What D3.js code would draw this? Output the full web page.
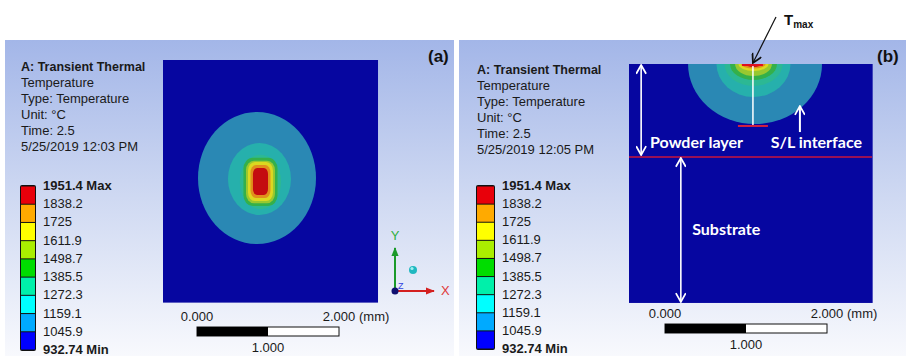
<!DOCTYPE html>
<html>
<head>
<meta charset="utf-8">
<script src="https://cdn.jsdelivr.net/npm/d3@7"></script>
<style>
  body { margin: 0; background: #fff; }
  svg { display: block; }
</style>
</head>
<body>
<div id="chart"></div>
<script>
// contour levels (°C), top to bottom of the legend
const legendLevels = [1951.4, 1838.2, 1725, 1611.9, 1498.7, 1385.5, 1272.3, 1159.1, 1045.9, 932.74];
const legendColors = ["#e8000a", "#ffaa00", "#ffff00", "#aaee00", "#00dd00", "#00f0aa", "#00ffff", "#00aaff", "#0000ff"];
// same bands as they appear on the lit model
const shadeColors = ["#c40c10", "#e0901c", "#dcd820", "#98c830", "#34b04a", "#2cb894", "#26b0ac", "#2a88b4", "#0606a0"];

const infoA = ["A: Transient Thermal", "Temperature", "Type: Temperature", "Unit: °C", "Time: 2.5", "5/25/2019 12:03 PM"];
const infoB = ["A: Transient Thermal", "Temperature", "Type: Temperature", "Unit: °C", "Time: 2.5", "5/25/2019 12:05 PM"];

const scaleTicks = [0, 1, 2]; // mm

// (a) top view, mm from top-left corner of the part; band = index in shadeColors
// box = the band looks like a rounded square rather than an ellipse
const bandsA = [
  { band: 7, cx: 1.324, cy: 1.662, rx: 0.831, ry: 0.930, box: false },
  { band: 6, cx: 1.359, cy: 1.676, rx: 0.444, ry: 0.507, box: false },
  { band: 5, cx: 1.373, cy: 1.718, rx: 0.290, ry: 0.385, box: false },
  { band: 4, cx: 1.373, cy: 1.718, rx: 0.240, ry: 0.340, box: true },
  { band: 3, cx: 1.373, cy: 1.718, rx: 0.204, ry: 0.300, box: true },
  { band: 2, cx: 1.373, cy: 1.711, rx: 0.176, ry: 0.275, box: true },
  { band: 1, cx: 1.373, cy: 1.711, rx: 0.141, ry: 0.232, box: true },
  { band: 0, cx: 1.373, cy: 1.711, rx: 0.106, ry: 0.190, box: true }
];

// (b) cross section, mm from top surface; pools are half ellipses on the surface
const bandsB = [
  { band: 7, cx: 1.556, rx: 0.827, ry: 0.741, box: false },
  { band: 6, cx: 1.537, rx: 0.457, ry: 0.407, box: false },
  { band: 5, cx: 1.537, rx: 0.358, ry: 0.272, box: false },
  { band: 4, cx: 1.537, rx: 0.290, ry: 0.198, box: false },
  { band: 3, cx: 1.537, rx: 0.228, ry: 0.148, box: false },
  { band: 2, cx: 1.537, rx: 0.185, ry: 0.086, box: false },
  { band: 1, cx: 1.537, rx: 0.148, ry: 0.056, box: false },
  { band: 0, cx: 1.537, rx: 0.105, ry: 0.037, box: false }
];
const poolCenterB = 1.53;    // mm
const poolDepthB = 0.765;    // mm
const interfaceDepthB = 1.148; // mm, powder layer / substrate

const W = 906, H = 356;
const textFont = "'Liberation Sans', Arial, sans-serif";
const labelFont = "Lato, 'Open Sans', sans-serif";

const svg = d3.select("#chart").append("svg")
  .attr("width", W).attr("height", H)
  .attr("viewBox", [0, 0, W, H]);

const defs = svg.append("defs");
const grad = defs.append("linearGradient")
  .attr("id", "bg").attr("x1", 0).attr("y1", 0).attr("x2", 0).attr("y2", 1);
grad.append("stop").attr("offset", "0%").attr("stop-color", "#a3b6e8");
grad.append("stop").attr("offset", "50%").attr("stop-color", "#cfd9f2");
grad.append("stop").attr("offset", "100%").attr("stop-color", "#f8f9fd");

function chevron(id, color, size) {
  defs.append("marker")
    .attr("id", id)
    .attr("viewBox", "0 -5 10 10")
    .attr("refX", 9).attr("refY", 0)
    .attr("markerWidth", size).attr("markerHeight", size)
    .attr("markerUnits", "userSpaceOnUse")
    .attr("orient", "auto-start-reverse")
    .append("path")
    .attr("d", "M1,-4.5L9,0L1,4.5")
    .attr("fill", "none")
    .attr("stroke", color)
    .attr("stroke-width", 1.6);
}
chevron("wArrow", "#fff", 11);
chevron("kArrow", "#111", 11);
defs.append("marker")
  .attr("id", "gArrow").attr("viewBox", "0 -5 10 10")
  .attr("refX", 9).attr("refY", 0)
  .attr("markerWidth", 9).attr("markerHeight", 9)
  .attr("markerUnits", "userSpaceOnUse").attr("orient", "auto")
  .append("path").attr("d", "M0,-4L10,0L0,4Z").attr("fill", "#1a9a2a");
defs.append("marker")
  .attr("id", "rArrow").attr("viewBox", "0 -5 10 10")
  .attr("refX", 9).attr("refY", 0)
  .attr("markerWidth", 9).attr("markerHeight", 9)
  .attr("markerUnits", "userSpaceOnUse").attr("orient", "auto")
  .append("path").attr("d", "M0,-4L10,0L0,4Z").attr("fill", "#d42020");

function drawPanel(p) {
  const g = svg.append("g");

  g.append("rect")
    .attr("x", p.x).attr("y", 40)
    .attr("width", p.w).attr("height", H - 40)
    .attr("fill", "url(#bg)");

  // header text
  g.append("g")
    .selectAll("text")
    .data(p.info)
    .join("text")
    .attr("x", p.textX)
    .attr("y", (d, i) => p.textY + i * 16)
    .style("font-family", textFont)
    .style("font-size", (d, i) => i === 0 ? "12.5px" : "13px")
    .style("font-weight", (d, i) => i === 0 ? "bold" : "normal")
    .attr("fill", "#1a1a1a")
    .text(d => d);

  // legend
  const ly = d3.scaleLinear()
    .domain([legendLevels[legendLevels.length - 1], legendLevels[0]])
    .range([p.legBottom, p.legTop]);

  const bands = d3.pairs(legendLevels).map((pr, i) => ({ hi: pr[0], lo: pr[1], color: legendColors[i] }));
  g.append("rect")
    .attr("x", p.textX - 1).attr("y", ly(legendLevels[0]) - 1)
    .attr("width", p.legW + 2).attr("height", ly(legendLevels[legendLevels.length - 1]) - ly(legendLevels[0]) + 2)
    .attr("rx", 2)
    .attr("fill", "#111");
  g.append("g")
    .selectAll("rect")
    .data(bands)
    .join("rect")
    .attr("x", p.textX)
    .attr("y", d => ly(d.hi) + 0.5)
    .attr("width", p.legW)
    .attr("height", d => ly(d.lo) - ly(d.hi) - 1)
    .attr("fill", d => d.color);

  g.append("g")
    .selectAll("text")
    .data(legendLevels)
    .join("text")
    .attr("x", p.textX + p.legW + 8)
    .attr("y", d => ly(d) + 4)
    .style("font-family", textFont)
    .style("font-size", "13px")
    .style("font-weight", (d, i) => (i === 0 || i === legendLevels.length - 1) ? "bold" : "normal")
    .attr("fill", "#1a1a1a")
    .text((d, i) => i === 0 ? d + " Max" : i === legendLevels.length - 1 ? d + " Min" : d);

  // model
  const mx = d3.scaleLinear().domain([0, p.modelW]).range([p.mx0, p.mx0 + p.modelW * p.k]);
  const my = d3.scaleLinear().domain([0, p.modelH]).range([p.my0, p.my0 + p.modelH * p.k]);

  const clipId = "clip_" + p.id;
  defs.append("clipPath").attr("id", clipId)
    .append("rect")
    .attr("x", mx(0)).attr("y", my(0))
    .attr("width", mx(p.modelW) - mx(0)).attr("height", my(p.modelH) - my(0));

  const model = g.append("g").attr("clip-path", `url(#${clipId})`);
  model.append("rect")
    .attr("x", mx(0)).attr("y", my(0))
    .attr("width", mx(p.modelW) - mx(0)).attr("height", my(p.modelH) - my(0))
    .attr("fill", shadeColors[8]);

  // every band as a rect whose corner radius makes it an ellipse or a rounded box
  model.selectAll("rect.band")
    .data(p.bands)
    .join("rect")
    .attr("class", "band")
    .attr("x", d => mx(d.cx - d.rx))
    .attr("y", d => my((d.cy || 0) - d.ry))
    .attr("width", d => 2 * d.rx * p.k)
    .attr("height", d => 2 * d.ry * p.k)
    .attr("rx", d => (d.box ? 0.55 : 1) * d.rx * p.k)
    .attr("ry", d => (d.box ? 0.45 : 1) * d.ry * p.k)
    .attr("fill", d => shadeColors[d.band]);

  // scale bar
  const sx = d3.scaleLinear().domain([0, 2]).range([p.barX, p.barX + 2 * p.k]);
  g.append("rect")
    .attr("x", sx(0)).attr("y", p.barY)
    .attr("width", sx(2) - sx(0)).attr("height", 9)
    .attr("fill", "#fff").attr("stroke", "#111").attr("stroke-width", 1);
  g.append("rect")
    .attr("x", sx(0)).attr("y", p.barY)
    .attr("width", sx(1) - sx(0)).attr("height", 9)
    .attr("fill", "#000");
  g.append("g")
    .selectAll("text")
    .data(scaleTicks)
    .join("text")
    .attr("x", d => sx(d))
    .attr("y", d => d === 1 ? p.barY + 25 : p.barY - 6)
    .attr("text-anchor", "middle")
    .style("font-family", textFont)
    .style("font-size", "13px")
    .attr("fill", "#1a1a1a")
    .text(d => d3.format(".3f")(d));
  g.append("text")
    .attr("x", sx(2) + 20).attr("y", p.barY - 6)
    .style("font-family", textFont)
    .style("font-size", "13px")
    .attr("fill", "#1a1a1a")
    .text("(mm)");

  // panel tag
  g.append("text")
    .attr("x", p.tagX).attr("y", 62)
    .style("font-family", textFont)
    .style("font-size", "17px")
    .style("font-weight", "bold")
    .attr("fill", "#111")
    .text(p.tag);

  return { g, mx, my };
}

// ---- panel (a)
const A = drawPanel({
  id: "a", x: 5, w: 449, info: infoA, textX: 21, textY: 71,
  legTop: 186, legBottom: 350, legW: 14,
  mx0: 163, my0: 60, k: 71, modelW: 3.03, modelH: 3.42, bands: bandsA,
  barX: 197, barY: 327, tag: "(a)", tagX: 428
});

// axis triad
const tri = A.g.append("g").attr("transform", "translate(395,291)");
tri.append("line").attr("x1", 0).attr("y1", 0).attr("x2", 0).attr("y2", -43)
  .attr("stroke", "#1a9a2a").attr("stroke-width", 2).attr("marker-end", "url(#gArrow)");
tri.append("line").attr("x1", 0).attr("y1", 0).attr("x2", 39).attr("y2", 0)
  .attr("stroke", "#d42020").attr("stroke-width", 2).attr("marker-end", "url(#rArrow)");
tri.append("circle").attr("r", 3.5).attr("fill", "#101070");
tri.append("text").attr("x", 3).attr("y", -2).style("font-family", textFont).style("font-size", "9px")
  .attr("fill", "#3040e0").text("Z");
tri.append("text").attr("x", 0).attr("y", -51).attr("text-anchor", "middle")
  .style("font-family", textFont).style("font-size", "13px").attr("fill", "#30b040").text("Y");
tri.append("text").attr("x", 46).attr("y", 4)
  .style("font-family", textFont).style("font-size", "13px").attr("fill", "#e03838").text("X");
tri.append("circle").attr("cx", 18).attr("cy", -21).attr("r", 4).attr("fill", "#20b8c0");
tri.append("circle").attr("cx", 17).attr("cy", -22.5).attr("r", 1.6).attr("fill", "#a0f0f0");

// ---- panel (b)
const B = drawPanel({
  id: "b", x: 459, w: 447, info: infoB, textX: 477, textY: 74,
  legTop: 186, legBottom: 349, legW: 17,
  mx0: 629, my0: 64, k: 81, modelW: 3.01, modelH: 2.95, bands: bandsB,
  barX: 665, barY: 324, tag: "(b)", tagX: 877
});
const bx = B.mx, by = B.my;

// powder / substrate interface
B.g.append("line")
  .attr("x1", bx(0)).attr("x2", bx(3.0))
  .attr("y1", by(interfaceDepthB)).attr("y2", by(interfaceDepthB))
  .attr("stroke", "#c8143c").attr("stroke-width", 1.3);

// pool depth marker
B.g.append("line")
  .attr("x1", bx(poolCenterB)).attr("x2", bx(poolCenterB))
  .attr("y1", by(0)).attr("y2", by(poolDepthB))
  .attr("stroke", "#fff").attr("stroke-width", 1.5);
B.g.append("line")
  .attr("x1", bx(poolCenterB) - 15).attr("x2", bx(poolCenterB) + 15)
  .attr("y1", by(poolDepthB)).attr("y2", by(poolDepthB))
  .attr("stroke", "#d02040").attr("stroke-width", 2);
B.g.append("line")
  .attr("x1", bx(poolCenterB) - 11).attr("x2", bx(poolCenterB) + 10)
  .attr("y1", by(0) + 1).attr("y2", by(0) + 1)
  .attr("stroke", "#e01020").attr("stroke-width", 2);

// white double arrows
B.g.append("line")
  .attr("x1", bx(0.15)).attr("x2", bx(0.15))
  .attr("y1", by(0) + 1).attr("y2", by(interfaceDepthB) - 2)
  .attr("stroke", "#fff").attr("stroke-width", 1.6)
  .attr("marker-start", "url(#wArrow)").attr("marker-end", "url(#wArrow)");
B.g.append("line")
  .attr("x1", bx(0.64)).attr("x2", bx(0.64))
  .attr("y1", by(interfaceDepthB) + 1).attr("y2", by(2.95) - 1)
  .attr("stroke", "#fff").attr("stroke-width", 1.6)
  .attr("marker-start", "url(#wArrow)").attr("marker-end", "url(#wArrow)");
B.g.append("line")
  .attr("x1", bx(2.11)).attr("x2", bx(2.11))
  .attr("y1", by(0.84)).attr("y2", by(0.52))
  .attr("stroke", "#fff").attr("stroke-width", 2)
  .attr("marker-end", "url(#wArrow)");

const labels = [
  { text: "Powder layer", x: 0.26, y: 1.04 },
  { text: "S/L interface", x: 1.75, y: 1.04 },
  { text: "Substrate", x: 0.78, y: 2.11 }
];
B.g.append("g")
  .selectAll("text")
  .data(labels)
  .join("text")
  .attr("x", d => bx(d.x)).attr("y", d => by(d.y))
  .style("font-family", labelFont)
  .style("font-size", "16px")
  .style("font-weight", "bold")
  .attr("fill", "#fff")
  .text(d => d.text);

// T_max callout
svg.append("line")
  .attr("x1", 776).attr("y1", 17)
  .attr("x2", bx(poolCenterB)).attr("y2", by(0) - 1)
  .attr("stroke", "#111").attr("stroke-width", 1.2)
  .attr("marker-end", "url(#kArrow)");
const tmax = svg.append("text")
  .attr("x", 784).attr("y", 25)
  .style("font-family", textFont)
  .attr("fill", "#111");
tmax.append("tspan").style("font-size", "15px").style("font-weight", "bold").text("T");
tmax.append("tspan").attr("dy", 3).style("font-size", "10px").style("font-weight", "bold").text("max");
</script>
</body>
</html>
